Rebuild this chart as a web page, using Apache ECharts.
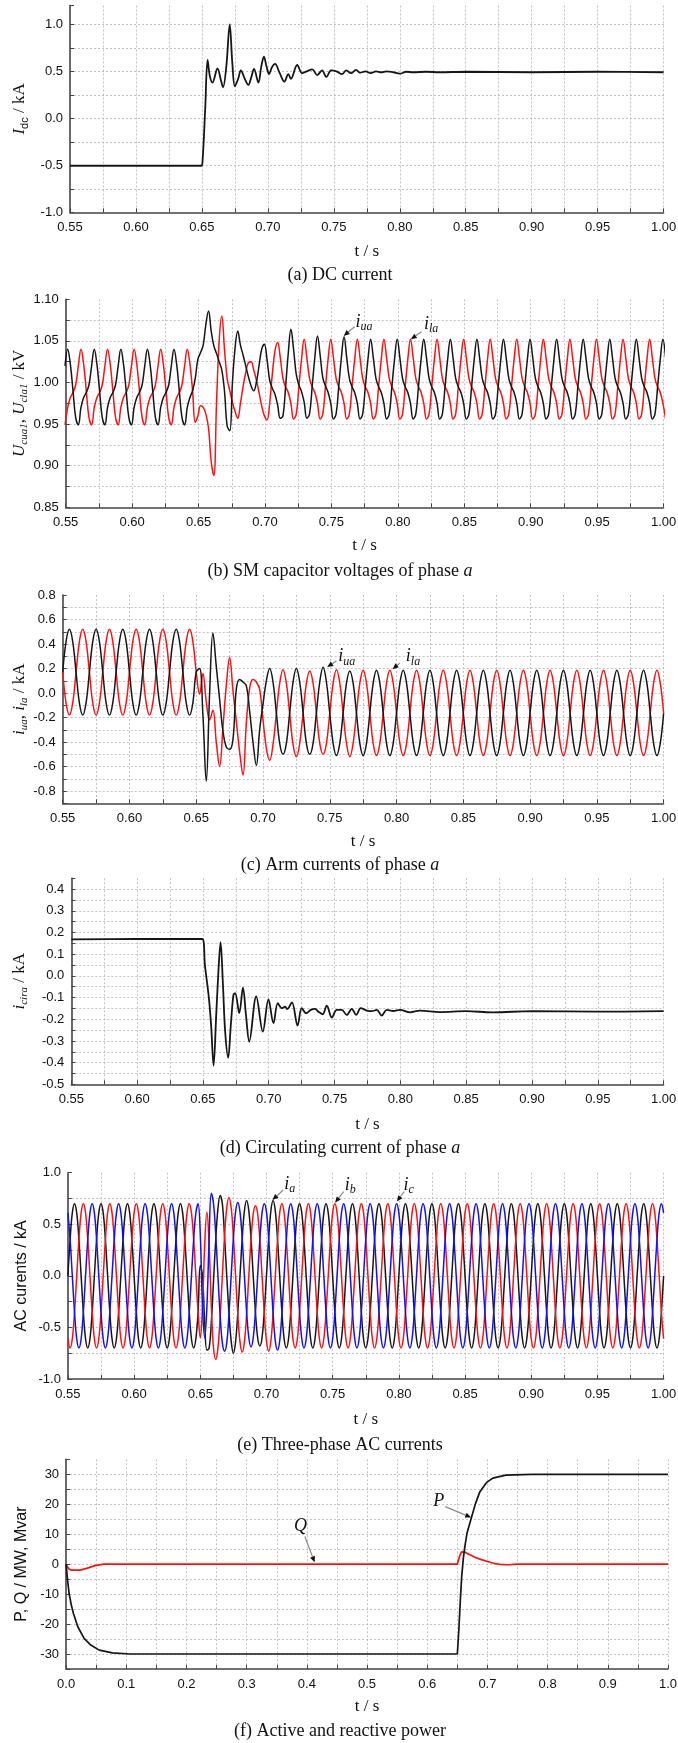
<!DOCTYPE html>
<html><head><meta charset="utf-8">
<script src="https://cdn.jsdelivr.net/npm/echarts@6/dist/echarts.min.js"></script>
<style>html,body{margin:0;padding:0;background:#fff}#c{width:678px;height:1743px}</style>
</head><body><div id="c"></div>
<script>
// ---------------- DATA ----------------
// (a) DC current, breakpoints
const aT = [0.550,0.600,0.6495,0.6505,0.6525,0.6543,0.656,0.658,0.6618,0.6645,0.666,0.6685,0.6711,0.673,0.675,0.6775,0.6795,0.6825,0.6852,0.6875,0.6895,0.6928,0.695,0.697,0.699,0.7009,0.703,0.7054,0.709,0.7125,0.7155,0.7175,0.7222,0.726,0.7295,0.7336,0.7374,0.7411,0.7444,0.7479,0.752,0.7562,0.7595,0.763,0.7668,0.770,0.774,0.778,0.782,0.786,0.790,0.795,0.800,0.805,0.810,0.820,0.830,0.850,0.900,0.950,1.000];
const aIdc = [-0.505,-0.505,-0.505,-0.45,0.10,0.62,0.45,0.38,0.53,0.40,0.33,0.55,1.00,0.60,0.34,0.42,0.51,0.42,0.355,0.44,0.525,0.38,0.55,0.656,0.55,0.47,0.54,0.578,0.48,0.39,0.47,0.42,0.567,0.48,0.50,0.52,0.46,0.51,0.44,0.51,0.50,0.47,0.51,0.48,0.515,0.485,0.50,0.48,0.50,0.49,0.50,0.49,0.475,0.495,0.49,0.495,0.49,0.495,0.49,0.495,0.49];

// (b) SM capacitor voltages, sampled every 2 ms from 0.5495 s
const bStart = 0.5495, bStep = 0.002;
const bUcua = [
1.020,
1.040,1.022,0.990,0.958,0.949,0.970,0.982,0.988,0.997,1.020,
1.040,1.022,0.990,0.958,0.949,0.970,0.982,0.988,0.997,1.020,
1.040,1.022,0.990,0.958,0.949,0.970,0.982,0.988,0.997,1.020,
1.040,1.022,0.990,0.958,0.949,0.970,0.982,0.988,0.997,1.020,
1.040,1.022,0.990,0.958,0.949,0.970,0.982,0.990,
1.005,1.028,1.036,1.045,1.070,1.086,1.062,1.044,1.035,1.025,1.015,0.990,0.948,0.942,1.000,1.042,1.062,1.045,1.033,1.020,1.007,0.996,0.990,1.000,1.020,1.040,1.046,
1.028,1.003,0.993,0.986,0.973,0.957,0.960,0.995,1.035,
1.064,1.040,1.010,0.997,0.989,0.976,0.957,0.962,0.995,1.030,
1.056,1.033,1.006,0.996,0.988,0.975,0.956,0.962,0.995,1.030,
1.055,1.030,1.005,0.995,0.988,0.975,0.956,0.962,0.995,1.028,
1.052,1.030,1.005,0.995,0.988,0.975,0.956,0.962,0.995,1.028,
1.052,1.030,1.005,0.995,0.988,0.975,0.956,0.962,0.995,1.028,
1.052,1.030,1.005,0.995,0.988,0.975,0.956,0.962,0.995,1.028,
1.052,1.030,1.005,0.995,0.988,0.975,0.956,0.962,0.995,1.028,
1.052,1.030,1.005,0.995,0.988,0.975,0.956,0.962,0.995,1.028,
1.052,1.030,1.005,0.995,0.988,0.975,0.956,0.962,0.995,1.028,
1.052,1.030,1.005,0.995,0.988,0.975,0.956,0.962,0.995,1.028,
1.052,1.030,1.005,0.995,0.988,0.975,0.956,0.962,0.995,1.028,
1.052,1.030,1.005,0.995,0.988,0.975,0.956,0.962,0.995,1.028,
1.052,1.030,1.005,0.995,0.988,0.975,0.956,0.962,0.995,1.028,
1.052,1.030,1.005,0.995,0.988,0.975,0.956,0.962,0.995,1.028,
1.052,1.030
];
const bUcla = [
0.949,0.970,0.982,0.988,0.997,1.020,1.040,1.022,0.990,0.958,
0.949,0.970,0.982,0.988,0.997,1.020,1.040,1.022,0.990,0.958,
0.949,0.970,0.982,0.988,0.997,1.020,1.040,1.022,0.990,0.958,
0.949,0.970,0.982,0.988,0.997,1.020,1.040,1.022,0.990,0.958,
0.949,0.970,0.982,0.988,0.997,1.020,1.040,1.022,0.990,0.952,
0.960,0.972,0.970,0.962,0.945,0.905,0.888,0.975,1.050,1.080,1.040,1.005,0.990,0.976,0.965,0.957,0.975,0.995,1.012,1.024,1.025,1.015,1.003,0.988,0.972,0.960,0.955,0.975,1.010,1.038,1.048,
1.030,1.005,0.995,0.988,0.975,0.956,0.962,0.995,1.028,
1.052,1.030,1.005,0.995,0.988,0.975,0.956,0.962,0.995,1.028,
1.052,1.030,1.005,0.995,0.988,0.975,0.956,0.962,0.995,1.028,
1.052,1.030,1.005,0.995,0.988,0.975,0.956,0.962,0.995,1.028,
1.052,1.030,1.005,0.995,0.988,0.975,0.956,0.962,0.995,1.028,
1.052,1.030,1.005,0.995,0.988,0.975,0.956,0.962,0.995,1.028,
1.052,1.030,1.005,0.995,0.988,0.975,0.956,0.962,0.995,1.028,
1.052,1.030,1.005,0.995,0.988,0.975,0.956,0.962,0.995,1.028,
1.052,1.030,1.005,0.995,0.988,0.975,0.956,0.962,0.995,1.028,
1.052,1.030,1.005,0.995,0.988,0.975,0.956,0.962,0.995,1.028,
1.052,1.030,1.005,0.995,0.988,0.975,0.956,0.962,0.995,1.028,
1.052,1.030,1.005,0.995,0.988,0.975,0.956,0.962,0.995,1.028,
1.052,1.030,1.005,0.995,0.988,0.975,0.956,0.962,0.995,1.028,
1.052,1.030,1.005,0.995,0.988,0.975,0.956,0.962,0.995,1.028,
1.052,1.030,1.005,0.995,0.988,0.975,0.956
];

// (c) Arm currents, sampled every 2.5 ms from 0.55 s
const cStart = 0.55, cStep = 0.0025;
const cIua = [
0.17,0.42,0.52,0.42,0.17,-0.08,-0.18,-0.08,
0.17,0.42,0.52,0.42,0.17,-0.08,-0.18,-0.08,
0.17,0.42,0.52,0.42,0.17,-0.08,-0.18,-0.08,
0.17,0.42,0.52,0.42,0.17,-0.08,-0.18,-0.08,
0.17,0.42,0.52,0.42,0.17,-0.08,-0.18,-0.08,
0.17,0.20,-0.18,-0.72,-0.01,0.49,0.22,-0.05,-0.31,-0.44,-0.46,-0.38,0.03,0.11,0.09,0.06,-0.15,-0.40,-0.59,-0.30,-0.09,0.10,0.20,
0.09,-0.16,-0.41,-0.50,-0.41,-0.16,0.09,0.20,0.09,-0.16,-0.41,-0.50,-0.41,-0.16,0.09,0.21,0.09,-0.165,-0.41,-0.51,-0.41,-0.165,0.08,0.18,
0.08,-0.165,-0.41,-0.51,-0.41,-0.165,0.08,0.185,
0.08,-0.165,-0.41,-0.51,-0.41,-0.165,0.08,0.185,
0.08,-0.165,-0.41,-0.51,-0.41,-0.165,0.08,0.185,
0.08,-0.165,-0.41,-0.51,-0.41,-0.165,0.08,0.185,
0.08,-0.165,-0.41,-0.51,-0.41,-0.165,0.08,0.185,
0.08,-0.165,-0.41,-0.51,-0.41,-0.165,0.08,0.185,
0.08,-0.165,-0.41,-0.51,-0.41,-0.165,0.08,0.185,
0.08,-0.165,-0.41,-0.51,-0.41,-0.165,0.08,0.185,
0.08,-0.165,-0.41,-0.51,-0.41,-0.165,0.08,0.185,
0.08,-0.165,-0.41,-0.51,-0.41,-0.165,0.08,0.185,
0.08,-0.165,-0.41,-0.51,-0.41,-0.165,0.08,0.185,
0.08,-0.165,-0.41,-0.51,-0.41,-0.165
];
const cIla = [
0.17,-0.08,-0.18,-0.08,0.17,0.42,0.52,0.42,
0.17,-0.08,-0.18,-0.08,0.17,0.42,0.52,0.42,
0.17,-0.08,-0.18,-0.08,0.17,0.42,0.52,0.42,
0.17,-0.08,-0.18,-0.08,0.17,0.42,0.52,0.42,
0.17,-0.08,-0.18,-0.08,0.17,0.42,0.52,0.42,
0.17,-0.01,0.16,-0.07,-0.22,-0.14,-0.40,-0.60,-0.28,0.06,0.29,0.02,-0.23,-0.48,-0.67,-0.25,0.04,0.11,0.09,0.03,-0.22,-0.45,-0.55,
-0.42,-0.17,0.08,0.19,0.08,-0.17,-0.42,-0.52,-0.41,-0.165,0.08,0.18,0.08,-0.165,-0.41,-0.50,-0.41,-0.165,0.08,0.19,0.08,-0.165,-0.41,-0.52,
-0.41,-0.165,0.08,0.185,0.08,-0.165,-0.41,-0.51,
-0.41,-0.165,0.08,0.185,0.08,-0.165,-0.41,-0.51,
-0.41,-0.165,0.08,0.185,0.08,-0.165,-0.41,-0.51,
-0.41,-0.165,0.08,0.185,0.08,-0.165,-0.41,-0.51,
-0.41,-0.165,0.08,0.185,0.08,-0.165,-0.41,-0.51,
-0.41,-0.165,0.08,0.185,0.08,-0.165,-0.41,-0.51,
-0.41,-0.165,0.08,0.185,0.08,-0.165,-0.41,-0.51,
-0.41,-0.165,0.08,0.185,0.08,-0.165,-0.41,-0.51,
-0.41,-0.165,0.08,0.185,0.08,-0.165,-0.41,-0.51,
-0.41,-0.165,0.08,0.185,0.08,-0.165,-0.41,-0.51,
-0.41,-0.165,0.08,0.185,0.08,-0.165,-0.41,-0.51,
-0.41,-0.165,0.08,0.185,0.08,-0.165
];

// (d) Circulating current, breakpoints
const dT = [0.550,0.600,0.6495,0.6515,0.6545,0.6562,0.6581,0.6601,0.6619,0.6634,0.6652,0.6669,0.6692,0.6712,0.6732,0.6745,0.6776,0.6804,0.6827,0.6852,0.6905,0.6955,0.6998,0.7036,0.7069,0.7099,0.7124,0.7141,0.7176,0.7219,0.7251,0.7284,0.7319,0.7352,0.7377,0.7410,0.7441,0.7479,0.7517,0.7555,0.7593,0.7631,0.7664,0.7699,0.7745,0.7783,0.7821,0.7858,0.7896,0.7947,0.7997,0.8073,0.8149,0.830,0.850,0.870,0.900,0.950,1.000];
const dIcir = [0.168,0.170,0.170,0.05,-0.10,-0.226,-0.414,-0.18,0.035,0.155,-0.04,-0.257,-0.377,-0.226,-0.088,-0.08,-0.172,-0.054,-0.18,-0.303,-0.095,-0.257,-0.108,-0.218,-0.126,-0.149,-0.142,-0.153,-0.122,-0.229,-0.149,-0.172,-0.157,-0.152,-0.165,-0.177,-0.137,-0.192,-0.157,-0.157,-0.18,-0.152,-0.18,-0.149,-0.160,-0.163,-0.157,-0.183,-0.157,-0.162,-0.157,-0.168,-0.16,-0.167,-0.163,-0.168,-0.163,-0.165,-0.163];

// (e) AC currents, sampled every 1/600 s from 0.55 s
const eStart = 0.55, eStep = 1/600;
const eIa = [
0,0.35,0.61,0.70,0.61,0.35,0,-0.35,-0.61,-0.70,-0.61,-0.35,
0,0.35,0.61,0.70,0.61,0.35,0,-0.35,-0.61,-0.70,-0.61,-0.35,
0,0.35,0.61,0.70,0.61,0.35,0,-0.35,-0.61,-0.70,-0.61,-0.35,
0,0.35,0.61,0.70,0.61,0.35,0,-0.35,-0.61,-0.70,-0.61,-0.35,
0,0.35,0.61,0.70,0.61,0.35,0,-0.35,-0.61,-0.70,-0.61,-0.35,
0.10,0.00,-0.45,-0.72,-0.70,-0.45,-0.05,0.35,0.65,0.78,0.70,0.38,0.00,-0.36,-0.63,-0.75,-0.64,-0.36,0.00,0.36,0.63,0.73,0.63,0.36,0.00,-0.35,-0.60,-0.68,-0.60,-0.35,0.00,0.36,0.63,0.73,0.63,0.36,0.00,
-0.35,-0.61,-0.70,-0.61,-0.35,0,0.35,0.61,0.70,0.61,0.35,
0,-0.35,-0.61,-0.70,-0.61,-0.35,0,0.35,0.61,0.70,0.61,0.35,
0,-0.35,-0.61,-0.70,-0.61,-0.35,0,0.35,0.61,0.70,0.61,0.35,
0,-0.35,-0.61,-0.70,-0.61,-0.35,0,0.35,0.61,0.70,0.61,0.35,
0,-0.35,-0.61,-0.70,-0.61,-0.35,0,0.35,0.61,0.70,0.61,0.35,
0,-0.35,-0.61,-0.70,-0.61,-0.35,0,0.35,0.61,0.70,0.61,0.35,
0,-0.35,-0.61,-0.70,-0.61,-0.35,0,0.35,0.61,0.70,0.61,0.35,
0,-0.35,-0.61,-0.70,-0.61,-0.35,0,0.35,0.61,0.70,0.61,0.35,
0,-0.35,-0.61,-0.70,-0.61,-0.35,0,0.35,0.61,0.70,0.61,0.35,
0,-0.35,-0.61,-0.70,-0.61,-0.35,0,0.35,0.61,0.70,0.61,0.35,
0,-0.35,-0.61,-0.70,-0.61,-0.35,0,0.35,0.61,0.70,0.61,0.35,
0,-0.35,-0.61,-0.70,-0.61,-0.35,0,0.35,0.61,0.70,0.61,0.35,
0,-0.35,-0.61,-0.70,-0.61,-0.35,0,0.35,0.61,0.70,0.61,0.35,
0,-0.35,-0.61,-0.70,-0.61,-0.35,0,0.35,0.61,0.70,0.61,0.35,
0,-0.35,-0.61,-0.70,-0.61,-0.35,0
];
const eIb = [
-0.61,-0.70,-0.61,-0.35,0,0.35,0.61,0.70,0.61,0.35,0,-0.35,
-0.61,-0.70,-0.61,-0.35,0,0.35,0.61,0.70,0.61,0.35,0,-0.35,
-0.61,-0.70,-0.61,-0.35,0,0.35,0.61,0.70,0.61,0.35,0,-0.35,
-0.61,-0.70,-0.61,-0.35,0,0.35,0.61,0.70,0.61,0.35,0,-0.35,
-0.61,-0.70,-0.61,-0.35,0,0.35,0.61,0.70,0.61,0.35,0,-0.35,
-0.60,-0.30,0.30,0.62,0.30,-0.30,-0.70,-0.81,-0.70,-0.40,0.00,0.38,0.66,0.76,0.66,0.38,0.00,-0.37,-0.64,-0.74,-0.64,-0.37,0.00,0.35,0.60,0.68,0.60,0.35,0.00,-0.36,-0.63,-0.73,-0.63,-0.36,0.00,0.35,0.61,
0.70,0.61,0.35,0,-0.35,-0.61,-0.70,-0.61,-0.35,0,0.35,
0.61,0.70,0.61,0.35,0,-0.35,-0.61,-0.70,-0.61,-0.35,0,0.35,
0.61,0.70,0.61,0.35,0,-0.35,-0.61,-0.70,-0.61,-0.35,0,0.35,
0.61,0.70,0.61,0.35,0,-0.35,-0.61,-0.70,-0.61,-0.35,0,0.35,
0.61,0.70,0.61,0.35,0,-0.35,-0.61,-0.70,-0.61,-0.35,0,0.35,
0.61,0.70,0.61,0.35,0,-0.35,-0.61,-0.70,-0.61,-0.35,0,0.35,
0.61,0.70,0.61,0.35,0,-0.35,-0.61,-0.70,-0.61,-0.35,0,0.35,
0.61,0.70,0.61,0.35,0,-0.35,-0.61,-0.70,-0.61,-0.35,0,0.35,
0.61,0.70,0.61,0.35,0,-0.35,-0.61,-0.70,-0.61,-0.35,0,0.35,
0.61,0.70,0.61,0.35,0,-0.35,-0.61,-0.70,-0.61,-0.35,0,0.35,
0.61,0.70,0.61,0.35,0,-0.35,-0.61,-0.70,-0.61,-0.35,0,0.35,
0.61,0.70,0.61,0.35,0,-0.35,-0.61,-0.70,-0.61,-0.35,0,0.35,
0.61,0.70,0.61,0.35,0,-0.35,-0.61,-0.70,-0.61,-0.35,0,0.35,
0.61,0.70,0.61,0.35,0,-0.35,-0.61,-0.70,-0.61,-0.35,0,0.35,
0.61,0.70,0.61,0.35,0,-0.35,-0.61
];
const eIc = [
0.61,0.35,0,-0.35,-0.61,-0.70,-0.61,-0.35,0,0.35,0.61,0.70,
0.61,0.35,0,-0.35,-0.61,-0.70,-0.61,-0.35,0,0.35,0.61,0.70,
0.61,0.35,0,-0.35,-0.61,-0.70,-0.61,-0.35,0,0.35,0.61,0.70,
0.61,0.35,0,-0.35,-0.61,-0.70,-0.61,-0.35,0,0.35,0.61,0.70,
0.61,0.35,0,-0.35,-0.61,-0.70,-0.61,-0.35,0,0.35,0.61,0.70,
0.40,-0.30,-0.60,-0.30,0.35,0.80,0.70,0.40,0.00,-0.38,-0.65,-0.73,-0.65,-0.37,0.00,0.36,0.62,0.71,0.62,0.36,0.00,-0.35,-0.60,-0.69,-0.60,-0.35,0.00,0.35,0.61,0.70,0.62,0.36,0.00,-0.36,-0.63,-0.72,-0.63,-0.36,0.00,0.35,0.61,0.70,0.61,0.35,0,-0.35,-0.61,-0.70,
-0.61,-0.35,0,0.35,0.61,0.70,0.61,0.35,0,-0.35,-0.61,-0.70,
-0.61,-0.35,0,0.35,0.61,0.70,0.61,0.35,0,-0.35,-0.61,-0.70,
-0.61,-0.35,0,0.35,0.61,0.70,0.61,0.35,0,-0.35,-0.61,-0.70,
-0.61,-0.35,0,0.35,0.61,0.70,0.61,0.35,0,-0.35,-0.61,-0.70,
-0.61,-0.35,0,0.35,0.61,0.70,0.61,0.35,0,-0.35,-0.61,-0.70,
-0.61,-0.35,0,0.35,0.61,0.70,0.61,0.35,0,-0.35,-0.61,-0.70,
-0.61,-0.35,0,0.35,0.61,0.70,0.61,0.35,0,-0.35,-0.61,-0.70,
-0.61,-0.35,0,0.35,0.61,0.70,0.61,0.35,0,-0.35,-0.61,-0.70,
-0.61,-0.35,0,0.35,0.61,0.70,0.61,0.35,0,-0.35,-0.61,-0.70,
-0.61,-0.35,0,0.35,0.61,0.70,0.61,0.35,0,-0.35,-0.61,-0.70,
-0.61,-0.35,0,0.35,0.61,0.70,0.61,0.35,0,-0.35,-0.61,-0.70,
-0.61,-0.35,0,0.35,0.61,0.70,0.61,0.35,0,-0.35,-0.61,-0.70,
-0.61,-0.35,0,0.35,0.61,0.70,0.61,0.35,0,-0.35,-0.61,-0.70,
-0.61,-0.35,0,0.35,0.61,0.70,0.61
];

// (f) Active / reactive power, breakpoints
const fPT = [0,0.0025,0.005,0.0085,0.0122,0.0194,0.030,0.041,0.055,0.077,0.106,0.150,0.650,0.6525,0.655,0.6573,0.660,0.663,0.666,0.6731,0.6803,0.6875,0.6983,0.709,0.7306,0.7737,1.000];
const fP = [0,-5.5,-9.8,-13.5,-16.5,-20.9,-24.8,-27.0,-28.7,-29.6,-30.0,-30.0,-30.0,-22,-12,-4,2,6.5,10.3,15.3,20.3,24.2,27.2,28.7,29.7,30.0,30.0];
const fQT = [0,0.004,0.009,0.023,0.034,0.048,0.0625,0.650,0.6535,0.657,0.663,0.669,0.680,0.690,0.700,0.710,0.720,0.735,0.750,1.000];
const fQ = [0,-1.5,-2.0,-2.0,-1.4,-0.5,0,0,2.5,4.1,4.0,3.3,2.2,1.5,0.9,0.3,-0.1,-0.2,0,0];

// ---------------- CHART ----------------
const SERIF = '"Liberation Serif","Times New Roman",serif';
const SANS = '"Liberation Sans",Arial,sans-serif';
const BLACK = '#161616', RED = '#ff1010', BLUE = '#1010ff';

const grids = [
  {left:70,   right:14.4, top:5.5,    height:206.8},
  {left:65.7, right:14.4, top:299.3,  height:208},
  {left:62.7, right:14.4, top:595,    height:208.3},
  {left:71.3, right:14.4, top:878.3,  height:206},
  {left:67.9, right:14.4, top:1172.7, height:206.3},
  {left:66.1, right:10,   top:1459.3, height:209.7}
];

function fmt(step, dec) {
  return function (v) {
    const r = v / step;
    if (Math.abs(r - Math.round(r)) > 1e-6) return '';
    let x = Math.round(r) * step;
    if (Math.abs(x) < 1e-9) x = 0;
    return x.toFixed(dec);
  };
}
function axis(gi, min, max, step, lstep, dec, isY) {
  return {
    type: 'value', gridIndex: gi, min: min, max: max, interval: step,
    axisLine: {show: true, onZero: false, lineStyle: {color: '#444', width: 1.6}},
    axisTick: {show: true, inside: true, length: 4, lineStyle: {color: '#444', width: 1}},
    minorTick: {show: false},
    axisLabel: {show: true, color: '#111', fontFamily: SANS, fontSize: 13, margin: isY ? 7 : 9,
      formatter: fmt(lstep, dec), showMinLabel: true, showMaxLabel: true, hideOverlap: false},
    splitLine: {show: true, showMinLine: false, showMaxLine: !isY,
      lineStyle: {color: '#b4b4b4', type: [2, 2], width: 0.8}}
  };
}
const xAxes = [0,1,2,3,4].map(i => axis(i, 0.55, 1.0, 0.025, 0.05, 2, false));
xAxes.push(axis(5, 0, 1.0, 0.05, 0.1, 1, false));
const yAxes = [
  axis(0, -1, 1.2, 0.25, 0.5, 1, true),
  axis(1, 0.85, 1.10, 0.025, 0.05, 2, true),
  axis(2, -0.9, 0.8, 0.1, 0.2, 1, true),
  axis(3, -0.5, 0.45, 0.05, 0.1, 1, true),
  axis(4, -1, 1, 0.25, 0.5, 1, true),
  axis(5, -35, 35, 5, 10, 0, true)
];

function zip(ts, vs) { return ts.map((t, i) => [t, vs[i]]); }
function sampled(t0, dt, vs) { return vs.map((v, i) => [+(t0 + i * dt).toFixed(6), v]); }
function line(gi, data, color, smooth, w) {
  return {type: 'line', xAxisIndex: gi, yAxisIndex: gi, data: data, showSymbol: false,
    symbol: 'none', smooth: smooth, clip: true, silent: true,
    lineStyle: {color: color, width: w || 1.5}, z: 3};
}

const series = [
  line(0, zip(aT, aIdc), BLACK, 0.35, 1.8),
  line(1, sampled(bStart, bStep, bUcla), RED, 0.4),
  line(1, sampled(bStart, bStep, bUcua), BLACK, 0.4),
  line(2, sampled(cStart, cStep, cIla), RED, 0.4),
  line(2, sampled(cStart, cStep, cIua), BLACK, 0.4),
  line(3, zip(dT, dIcir), BLACK, 0.35, 1.8),
  line(4, sampled(eStart, eStep, eIa), BLACK, 0.4),
  line(4, sampled(eStart, eStep, eIb), RED, 0.4),
  line(4, sampled(eStart, eStep, eIc), BLUE, 0.4),
  line(5, zip(fQT, fQ), RED, false, 1.7),
  line(5, zip(fPT, fP), BLACK, false, 1.7)
];

const chart = echarts.init(document.getElementById('c'), null, {renderer: 'canvas', width: 678, height: 1743});
chart.setOption({
  animation: false,
  backgroundColor: '#ffffff',
  grid: grids.map(g => Object.assign({containLabel: false, outerBoundsMode: 'none'}, g)),
  xAxis: xAxes,
  yAxis: yAxes,
  series: series
});

// ---------------- TEXTS & ANNOTATIONS ----------------
const yNames = [
  '{m|I}{sd|dc}{n| / kA}',
  '{m|U}{s|cua1}{n|, }{m|U}{s|cla1}{n| / kV}',
  '{m|i}{s|ua}{n|, }{m|i}{s|la}{n| / kA}',
  '{m|i}{s|cira}{n| / kA}',
  '{a|AC curents / kA}',
  '{a|P, Q / MW, Mvar}'
];
const yNameX = [19.5, 19.5, 19.5, 19.5, 21.6, 21.6];
const captions = [
  '(a) DC current',
  '(b) SM capacitor voltages of phase {it|a}',
  '(c) Arm currents of phase {it|a}',
  '(d) Circulating current of phase {it|a}',
  '(e) Three-phase AC currents',
  '(f) Active and reactive power'
];
const captionY = [275, 571.7, 865, 1148, 1445, 1731.7];
const xNameY = [252, 546, 841.7, 1125, 1420, 1706.7];

const nameRich = {
  m: {fontFamily: SERIF, fontStyle: 'italic', fontSize: 17, fill: '#111'},
  s: {fontFamily: SERIF, fontStyle: 'italic', fontSize: 11, fill: '#111', padding: [10, 0, 0, 0]},
  sd: {fontFamily: SANS, fontSize: 11, fill: '#111', padding: [10, 0, 0, 0]},
  n: {fontFamily: SERIF, fontSize: 17, fill: '#111'},
  a: {fontFamily: SANS, fontSize: 16, fill: '#111'}
};

const graphics = [];
grids.forEach((g, i) => {
  const w = 678 - g.left - g.right;
  graphics.push({type: 'text', x: yNameX[i], y: g.top + g.height / 2, rotation: Math.PI / 2,
    style: {text: yNames[i], rich: nameRich, align: 'center', verticalAlign: 'middle',
      textAlign: 'center', textVerticalAlign: 'middle'}, z: 50});
  graphics.push({type: 'text', x: g.left + w / 2, y: xNameY[i],
    style: {text: 't / s', fontFamily: SERIF, fontSize: 17, fill: '#111', align: 'center', verticalAlign: 'middle',
      textAlign: 'center', textVerticalAlign: 'middle'}, z: 50});
  graphics.push({type: 'text', x: 340, y: captionY[i],
    style: {text: captions[i], fontFamily: SERIF, fontSize: 18, fill: '#111', align: 'center', verticalAlign: 'middle',
      textAlign: 'center', textVerticalAlign: 'middle',
      rich: {it: {fontFamily: SERIF, fontStyle: 'italic', fontSize: 18, fill: '#111'}}}, z: 50});
});

// annotation anchors in data coordinates
const annotations = [
  {g: 1, text: '{m|i}{s|ua}', label: [0.7745, 1.0727], tail: [0.7674, 1.067], tip: [0.7592, 1.056]},
  {g: 1, text: '{m|i}{s|la}', label: [0.825, 1.070], tail: [0.8178, 1.061], tip: [0.8097, 1.052]},
  {g: 2, text: '{m|i}{s|ua}', label: [0.7627, 0.298], tail: [0.755, 0.262], tip: [0.7481, 0.212]},
  {g: 2, text: '{m|i}{s|la}', label: [0.8123, 0.298], tail: [0.8025, 0.244], tip: [0.797, 0.195]},
  {g: 4, text: '{m|i}{s|a}', label: [0.7175, 0.89], tail: [0.7126, 0.832], tip: [0.7045, 0.735]},
  {g: 4, text: '{m|i}{s|b}', label: [0.7633, 0.88], tail: [0.7583, 0.816], tip: [0.7518, 0.709]},
  {g: 4, text: '{m|i}{s|c}', label: [0.8074, 0.88], tail: [0.804, 0.816], tip: [0.7985, 0.72]},
  {g: 5, text: '{m|P}', label: [0.619, 20.85], tail: [0.630, 19.2], tip: [0.673, 15.6]},
  {g: 5, text: '{m|Q}', label: [0.3894, 12.7], tail: [0.3966, 9.2], tip: [0.413, 0.6]}
];
const annRich = {
  m: {fontFamily: SERIF, fontStyle: 'italic', fontSize: 18, fill: '#111'},
  s: {fontFamily: SERIF, fontStyle: 'italic', fontSize: 12, fill: '#111', padding: [10, 0, 0, 0]}
};
annotations.forEach(a => {
  const L = chart.convertToPixel({gridIndex: a.g}, a.label);
  const p1 = chart.convertToPixel({gridIndex: a.g}, a.tail);
  const p2 = chart.convertToPixel({gridIndex: a.g}, a.tip);
  const dx = p2[0] - p1[0], dy = p2[1] - p1[1];
  const len = Math.hypot(dx, dy) || 1;
  const ux = dx / len, uy = dy / len;
  const hl = 6, hw = 2.6;
  const bx = p2[0] - ux * hl, by = p2[1] - uy * hl;
  graphics.push({type: 'line', shape: {x1: p1[0], y1: p1[1], x2: bx, y2: by},
    style: {stroke: '#8a8a8a', lineWidth: 1.2}, z: 60});
  graphics.push({type: 'polygon', shape: {points: [[p2[0], p2[1]], [bx - uy * hw, by + ux * hw], [bx + uy * hw, by - ux * hw]]},
    style: {fill: '#111'}, z: 61});
  graphics.push({type: 'text', x: L[0], y: L[1],
    style: {text: a.text, rich: annRich, align: 'center', verticalAlign: 'middle',
      textAlign: 'center', textVerticalAlign: 'middle'}, z: 62});
});

chart.setOption({graphic: graphics});
</script></body></html>
